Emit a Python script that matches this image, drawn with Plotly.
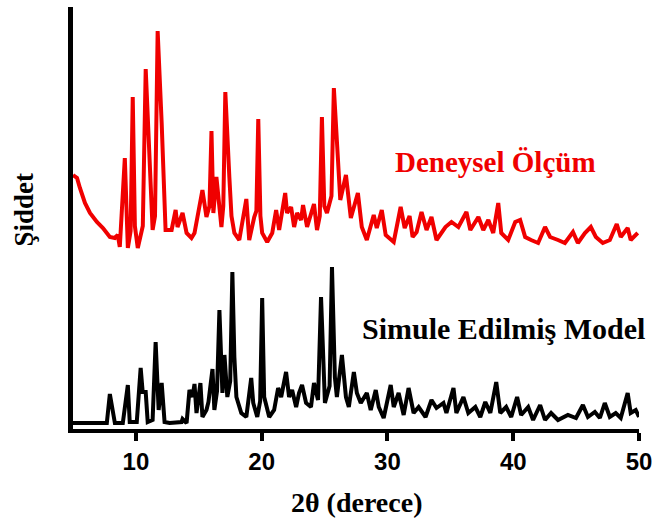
import plotly.graph_objects as go

# Experimental (Deneysel Ölçüm) pattern: 2-theta (deg) and intensity (a.u.)
red_2theta = [5.00, 5.32, 5.55, 5.95, 6.35, 6.90, 7.38, 7.93, 8.33, 8.56, 8.72, 9.12, 9.36, 9.58, 9.75,
              9.92, 10.15, 10.55, 10.78, 11.02, 11.33, 11.52, 11.73, 12.05, 12.36, 12.84, 13.16, 13.31,
              13.71, 14.03, 14.42, 14.66, 14.90, 15.29, 15.61, 15.85, 16.01, 16.16, 16.40, 16.80,
              16.95, 17.11, 17.43, 17.60, 17.83, 18.22, 18.78, 19.01, 19.41, 19.58, 19.73, 19.90,
              20.04, 20.44, 20.84, 21.15, 21.39, 21.87, 22.02, 22.34, 22.58, 22.82, 23.13, 23.29,
              23.61, 24.16, 24.40, 24.62, 24.79, 24.98, 25.19, 25.55, 25.74, 26.06, 26.25, 26.70,
              27.09, 27.65, 27.96, 28.36, 28.91, 29.15, 29.55, 29.86, 30.50, 31.05, 31.37, 31.76,
              32.00, 32.32, 32.71, 33.11, 33.50, 33.90, 34.61, 35.09, 35.64, 36.28, 36.59, 37.23,
              37.62, 38.02, 38.41, 38.81, 39.05, 39.60, 40.16, 40.55, 40.95, 41.42, 41.98, 42.53,
              42.93, 43.56, 44.11, 44.75, 45.14, 45.70, 46.17, 46.57, 47.12, 47.68, 48.23, 48.55,
              49.10, 49.34, 49.90]
red_intensity = [256, 253, 243, 228, 218, 209, 203, 194, 193, 196, 184, 273, 183, 200, 334,
                 205, 183, 205, 362, 284, 201, 215, 400, 308, 201, 201, 221, 204,
                 218, 198, 193, 198, 214, 241, 214, 225, 300, 218, 254, 204,
                 225, 339, 254, 215, 198, 191, 232, 191, 214, 220, 312, 215,
                 198, 189, 198, 221, 201, 238, 218, 224, 204, 218, 211, 226,
                 204, 227, 201, 215, 314, 225, 218, 235, 343, 276, 231, 256,
                 213, 238, 204, 191, 216, 203, 221, 196, 189, 224, 203, 215,
                 194, 199, 219, 201, 214, 191, 204, 209, 204, 219, 201, 214,
                 201, 211, 198, 228, 198, 191, 209, 211, 194, 191, 188, 204,
                 194, 191, 188, 199, 188, 198, 204, 194, 188, 191, 207, 194,
                 203, 191, 198]

# Simulated (Simule Edilmiş Model) pattern
black_2theta = [5.00, 7.69, 7.93, 8.17, 8.33, 8.96, 9.36, 9.51, 10.07, 10.38, 10.54, 10.78, 10.94,
                11.33, 11.57, 11.81, 12.05, 12.28, 12.68, 13.63, 13.71, 14.03, 14.26, 14.50, 14.66,
                14.82, 15.13, 15.29, 15.61, 15.77, 16.09, 16.24, 16.45, 16.64, 16.88, 17.04, 17.27,
                17.50, 17.67, 17.83, 17.99, 18.38, 18.78, 19.17, 19.33, 19.65, 19.88, 20.04, 20.20,
                20.60, 20.99, 21.31, 21.55, 21.94, 22.18, 22.42, 22.74, 22.97, 23.21, 23.53, 23.92,
                24.16, 24.48, 24.72, 25.03, 25.40, 25.59, 25.82, 25.98, 26.38, 26.70, 26.93, 27.33,
                27.57, 27.88, 28.36, 28.67, 29.07, 29.31, 29.70, 30.26, 30.50, 30.89, 31.29, 31.68,
                32.08, 32.48, 33.03, 33.50, 33.90, 34.45, 34.69, 35.25, 35.48, 36.04, 36.43, 36.99,
                37.38, 37.78, 38.18, 38.65, 38.97, 39.44, 39.84, 40.31, 40.63, 41.19, 41.58, 42.14,
                42.53, 43.01, 43.56, 44.35, 44.99, 45.54, 45.94, 46.49, 46.89, 47.28, 47.68, 48.15,
                48.55, 49.10, 49.34, 49.74, 50.00]
black_intensity = [8, 8, 37, 16, 8, 8, 46, 9, 9, 63, 39, 39, 9,
                   11, 89, 21, 48, 9, 8, 9, 12, 8, 41, 34, 47,
                   18, 48, 14, 21, 29, 62, 21, 40, 121, 38, 76, 34,
                   50, 159, 74, 34, 18, 14, 53, 28, 14, 30, 133, 34,
                   14, 21, 43, 34, 59, 34, 41, 24, 38, 46, 28, 24,
                   48, 31, 134, 28, 45, 164, 54, 34, 76, 34, 24, 59,
                   38, 28, 38, 21, 41, 24, 13, 46, 24, 38, 16, 43,
                   18, 24, 14, 31, 23, 28, 18, 43, 18, 34, 18, 24,
                   14, 29, 18, 49, 18, 24, 14, 34, 16, 24, 11, 26,
                   11, 18, 11, 16, 13, 26, 14, 19, 13, 28, 14, 18,
                   13, 38, 18, 21, 14]

x_ticks = [10, 20, 30, 40, 50]

serif = "Liberation Serif, Times New Roman, serif"
sans = "Liberation Sans, Arial, sans-serif"

fig = go.Figure()
fig.add_trace(go.Scatter(x=black_2theta, y=black_intensity, mode="lines",
                         line=dict(color="black", width=4), showlegend=False))
fig.add_trace(go.Scatter(x=red_2theta, y=red_intensity, mode="lines",
                         line=dict(color="#f00000", width=4), showlegend=False))

fig.update_layout(
    width=659, height=522,
    margin=dict(l=73, r=17, t=7, b=93),
    paper_bgcolor="white", plot_bgcolor="white",
    xaxis=dict(range=[5, 50], tickvals=x_ticks, ticks="outside", ticklen=8, tickwidth=4,
               tickcolor="black", showline=True, linewidth=4, linecolor="black",
               showgrid=False, zeroline=False,
               tickfont=dict(family=sans, size=24, color="black", weight="bold")),
    yaxis=dict(range=[2, 424], showticklabels=False, ticks="", showline=True, linewidth=5,
               linecolor="black", showgrid=False, zeroline=False),
    annotations=[
        dict(text="2θ (derece)", xref="paper", yref="paper", x=0.5, y=0, yshift=-73,
             xanchor="center", yanchor="middle", showarrow=False,
             font=dict(family=serif, size=28, color="black", weight="bold")),
        dict(text="Şiddet", xref="paper", yref="paper", x=0, y=0.52, xshift=-49, textangle=-90,
             xanchor="center", yanchor="middle", showarrow=False,
             font=dict(family=serif, size=27, color="black", weight="bold")),
        dict(text="Deneysel Ölçüm", x=38.6, y=269, showarrow=False,
             xanchor="center", yanchor="middle",
             font=dict(family=serif, size=29, color="#f00000", weight="bold")),
        dict(text="Simule Edilmiş Model", x=39.2, y=103, showarrow=False,
             xanchor="center", yanchor="middle",
             font=dict(family=serif, size=30, color="black", weight="bold")),
    ],
)

fig.write_html("out.html")
